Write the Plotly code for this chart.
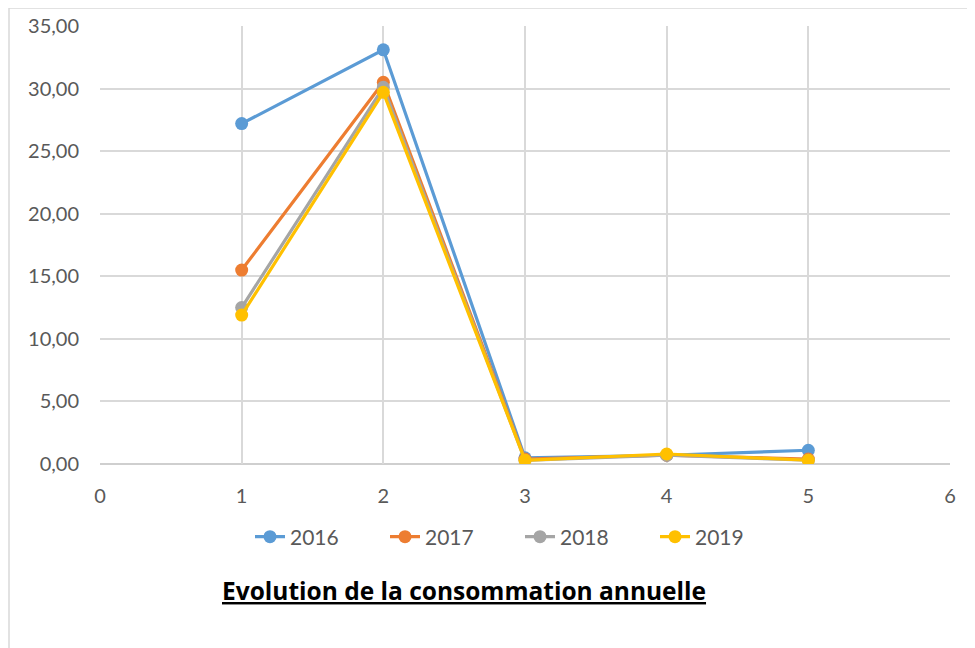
import plotly.graph_objects as go

x_vals = [1, 2, 3, 4, 5]
years = ["2016", "2017", "2018", "2019"]
v2016 = [27.2, 33.1, 0.5, 0.7, 1.1]
v2017 = [15.5, 30.5, 0.4, 0.7, 0.4]
v2018 = [12.5, 30.1, 0.3, 0.7, 0.3]
v2019 = [11.9, 29.7, 0.3, 0.8, 0.3]
series = [v2016, v2017, v2018, v2019]
colors = ["#5B9BD5", "#ED7D31", "#A5A5A5", "#FFC000"]
title_text = "Evolution de la consommation annuelle"

fig = go.Figure()
for name, vals, col in zip(years, series, colors):
    fig.add_trace(go.Scatter(
        x=x_vals, y=vals, name=name, mode="lines+markers",
        line=dict(color=col, width=3.2),
        marker=dict(color=col, size=13),
    ))

OFF = 8  # page body offset
W, H = 967, 640
L, T = 100 - OFF, 26 - OFF
pw, ph = 850, 438
R = W - L - pw
B = H - T - ph

def px_x(p):
    return (p - OFF - L) / pw

def px_y(p):
    return (T + ph - (p - OFF)) / ph

fig.update_layout(
    width=W, height=H,
    margin=dict(l=L, r=R, t=T, b=B, autoexpand=False),
    paper_bgcolor="white", plot_bgcolor="white",
    separators=", ",
    font=dict(family="Lato, Open Sans, sans-serif", color="#595959", size=16),
    showlegend=True,
    legend=dict(orientation="h", x=px_x(520), xanchor="center",
                y=px_y(537), yanchor="middle",
                font=dict(size=21, color="#595959"),
                entrywidth=90, traceorder="normal"),
    xaxis=dict(range=[0, 6], dtick=1, tick0=0, showgrid=True,
               gridcolor="#d9d9d9", gridwidth=1.5, zeroline=False,
               showline=False, ticks="", ticklabelstandoff=18,
               automargin=False,
               tickfont=dict(size=20, color="#595959")),
    yaxis=dict(range=[0, 35], dtick=5, tick0=0, tickformat=".2f",
               showgrid=True, gridcolor="#d9d9d9", gridwidth=1.5,
               zeroline=False, showline=False, ticks="",
               ticklabelstandoff=20, automargin=False,
               tickfont=dict(size=20, color="#595959")),
    shapes=[
        dict(type="line", xref="paper", yref="paper", x0=0, x1=1, y0=0, y1=0,
             line=dict(color="#bfbfbf", width=1.5), layer="below"),
        dict(type="rect", xref="paper", yref="paper",
             x0=px_x(9), x1=px_x(973), y0=px_y(660), y1=px_y(8),
             line=dict(color="#d9d9d9", width=1.5), layer="below"),
    ],
    annotations=[
        dict(text="<b><u>" + title_text + "</u></b>", xref="paper", yref="paper",
             x=px_x(464), y=px_y(590), xanchor="center", yanchor="middle",
             showarrow=False, font=dict(size=24.5, color="#000000",
                                        family="Open Sans, sans-serif")),
    ],
)

fig.write_html("out.html")
